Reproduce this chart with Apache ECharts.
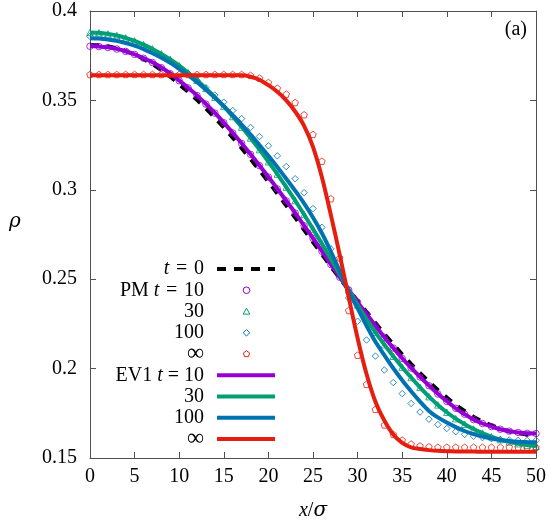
<!DOCTYPE html>
<html>
<head>
<meta charset="utf-8">
<script src="https://cdn.jsdelivr.net/npm/echarts@6.0.0/dist/echarts.min.js"></script>
<style>
    * { margin: 0; padding: 0; }
    #chart { width: 548px; height: 521px; }
</style>
</head>
<body>
<div id="chart"></div>
<script>
    // x / sigma grid
    const xs = [0, 1, 2, 3, 4, 5, 6, 7, 8, 9,
        10, 11, 12, 13, 14, 15, 16, 17, 18, 19,
        20, 21, 22, 23, 24, 25, 26, 27, 28, 29,
        30, 31, 32, 33, 34, 35, 36, 37, 38, 39,
        40, 41, 42, 43, 44, 45, 46, 47, 48, 49, 50];
    const xTicks = [0, 5, 10, 15, 20, 25, 30, 35, 40, 45, 50];
    const yTicks = [0.15, 0.2, 0.25, 0.3, 0.35, 0.4];

    // t = 0 (black dashed)
    const rhoT0 = [0.3810, 0.3808, 0.3801, 0.3791, 0.3776, 0.3756, 0.3731, 0.3703, 0.3670, 0.3632,
        0.3590, 0.3548, 0.3503, 0.3454, 0.3403, 0.3349, 0.3292, 0.3233, 0.3172, 0.3109,
        0.3045, 0.2979, 0.2912, 0.2845, 0.2776, 0.2708, 0.2640, 0.2571, 0.2506, 0.2441,
        0.2378, 0.2317, 0.2255, 0.2194, 0.2136, 0.2079, 0.2025, 0.1975, 0.1926, 0.1880,
        0.1838, 0.1798, 0.1763, 0.1730, 0.1704, 0.1683, 0.1664, 0.1649, 0.1639, 0.1632, 0.1630];

    // PM (symbols)
    const pm10 = [0.3803, 0.3801, 0.3796, 0.3787, 0.3774, 0.3757, 0.3736, 0.3712, 0.3683, 0.3649,
        0.3610, 0.3570, 0.3527, 0.3479, 0.3429, 0.3375, 0.3318, 0.3259, 0.3198, 0.3135,
        0.3071, 0.3005, 0.2938, 0.2870, 0.2799, 0.2728, 0.2656, 0.2582, 0.2511, 0.2440,
        0.2371, 0.2305, 0.2239, 0.2175, 0.2115, 0.2057, 0.2003, 0.1953, 0.1904, 0.1858,
        0.1816, 0.1778, 0.1745, 0.1715, 0.1693, 0.1676, 0.1661, 0.1650, 0.1643, 0.1638, 0.1637];
    const pm30 = [0.3880, 0.3878, 0.3872, 0.3863, 0.3850, 0.3833, 0.3812, 0.3788, 0.3760, 0.3729,
        0.3694, 0.3655, 0.3613, 0.3567, 0.3518, 0.3466, 0.3410, 0.3351, 0.3290, 0.3225,
        0.3157, 0.3088, 0.3015, 0.2940, 0.2862, 0.2781, 0.2698, 0.2613, 0.2527, 0.2440,
        0.2356, 0.2277, 0.2203, 0.2134, 0.2069, 0.2008, 0.1950, 0.1895, 0.1843, 0.1797,
        0.1756, 0.1720, 0.1689, 0.1662, 0.1639, 0.1619, 0.1603, 0.1590, 0.1580, 0.1572, 0.1566];
    const pm100 = [0.3858, 0.3856, 0.3851, 0.3843, 0.3831, 0.3816, 0.3797, 0.3775, 0.3749, 0.3720,
        0.3687, 0.3651, 0.3612, 0.3571, 0.3530, 0.3490, 0.3443, 0.3398, 0.3349, 0.3298,
        0.3246, 0.3190, 0.3130, 0.3062, 0.2984, 0.2895, 0.2790, 0.2670, 0.2537, 0.2395,
        0.2265, 0.2160, 0.2070, 0.1992, 0.1922, 0.1860, 0.1805, 0.1757, 0.1717, 0.1687,
        0.1665, 0.1647, 0.1632, 0.1622, 0.1614, 0.1608, 0.1604, 0.1601, 0.1599, 0.1598, 0.1598];
    const pmInf = [0.3645, 0.3645, 0.3645, 0.3645, 0.3645, 0.3645, 0.3645, 0.3645, 0.3645, 0.3645,
        0.3645, 0.3645, 0.3645, 0.3645, 0.3645, 0.3645, 0.3645, 0.3645, 0.3640, 0.3625,
        0.3600, 0.3568, 0.3535, 0.3488, 0.3420, 0.3310, 0.3160, 0.2950, 0.2620, 0.2325,
        0.2075, 0.1912, 0.1772, 0.1685, 0.1632, 0.1600, 0.1578, 0.1568, 0.1563, 0.1560,
        0.1560, 0.1560, 0.1560, 0.1560, 0.1560, 0.1560, 0.1560, 0.1560, 0.1560, 0.1560, 0.1560];

    // EV1 (lines)
    const ev10 = [0.3804, 0.3802, 0.3797, 0.3788, 0.3775, 0.3758, 0.3737, 0.3713, 0.3684, 0.3650,
        0.3611, 0.3571, 0.3528, 0.3480, 0.3430, 0.3376, 0.3319, 0.3260, 0.3199, 0.3136,
        0.3072, 0.3006, 0.2939, 0.2871, 0.2800, 0.2729, 0.2657, 0.2583, 0.2512, 0.2441,
        0.2372, 0.2306, 0.2240, 0.2176, 0.2116, 0.2058, 0.2004, 0.1954, 0.1905, 0.1859,
        0.1817, 0.1778, 0.1745, 0.1715, 0.1693, 0.1676, 0.1661, 0.1650, 0.1643, 0.1638, 0.1637];
    const ev30 = [0.3880, 0.3878, 0.3872, 0.3863, 0.3850, 0.3833, 0.3812, 0.3788, 0.3760, 0.3729,
        0.3694, 0.3655, 0.3613, 0.3567, 0.3518, 0.3466, 0.3410, 0.3351, 0.3290, 0.3225,
        0.3157, 0.3088, 0.3015, 0.2940, 0.2862, 0.2781, 0.2698, 0.2613, 0.2527, 0.2440,
        0.2356, 0.2277, 0.2203, 0.2134, 0.2069, 0.2008, 0.1950, 0.1895, 0.1843, 0.1797,
        0.1756, 0.1720, 0.1689, 0.1662, 0.1639, 0.1619, 0.1603, 0.1590, 0.1580, 0.1572, 0.1566];
    const ev100 = [0.3848, 0.3846, 0.3841, 0.3833, 0.3821, 0.3806, 0.3787, 0.3764, 0.3739, 0.3710,
        0.3677, 0.3641, 0.3602, 0.3560, 0.3515, 0.3468, 0.3418, 0.3365, 0.3309, 0.3250,
        0.3190, 0.3127, 0.3062, 0.2995, 0.2924, 0.2845, 0.2757, 0.2655, 0.2545, 0.2430,
        0.2337, 0.2240, 0.2150, 0.2075, 0.2002, 0.1935, 0.1873, 0.1815, 0.1763, 0.1727,
        0.1698, 0.1673, 0.1651, 0.1634, 0.1620, 0.1609, 0.1601, 0.1595, 0.1591, 0.1589, 0.1588];
    const evInf = [0.3640, 0.3640, 0.3640, 0.3640, 0.3640, 0.3640, 0.3640, 0.3640, 0.3640, 0.3640,
        0.3640, 0.3640, 0.3640, 0.3640, 0.3640, 0.3640, 0.3640, 0.3640, 0.3632, 0.3615,
        0.3585, 0.3548, 0.3500, 0.3438, 0.3358, 0.3240, 0.3070, 0.2860, 0.2635, 0.2400,
        0.2170, 0.1970, 0.1815, 0.1710, 0.1632, 0.1585, 0.1560, 0.1550, 0.1544, 0.1540,
        0.1538, 0.1537, 0.1536, 0.1536, 0.1535, 0.1535, 0.1535, 0.1535, 0.1535, 0.1535, 0.1535];

    const FONT = '"Liberation Serif", "DejaVu Serif", serif';
    const GREEK = '"DejaVu Serif", serif';
    const C_PURPLE = '#9400d3', C_GREEN = '#009e73', C_BLUE = '#0072b2', C_RED = '#e51e10';
    const AXIS_C = '#505050';
    const PENTAGON = 'path://M0,-10L9.51,-3.09L5.88,8.09L-5.88,8.09L-9.51,-3.09Z';

    function pts(ys) {
        return xs.map((x, i) => [x, ys[i]]);
    }

    function markSeries(name, ys, symbol, color) {
        return {
            name: name, type: 'scatter', data: pts(ys),
            symbol: symbol, symbolSize: 6.5,
            itemStyle: { color: 'rgba(0,0,0,0)', borderColor: color, borderWidth: 1 },
            z: 3
        };
    }

    function lineSeries(name, ys, color) {
        return {
            name: name, type: 'line', data: pts(ys),
            showSymbol: false, smooth: 0.3,
            lineStyle: { color: color, width: 4 },
            z: 4
        };
    }

    // legend (drawn by hand, text right aligned, sample to the right)
    const legendRows = [
        { txt: '{i|t}{n|\u2004=\u20040}', kind: 'dash' },
        { txt: '{n|PM }{i|t}{n|\u2004=\u200410}', kind: 'mark', sym: 'circle', color: C_PURPLE },
        { txt: '{n|30}', kind: 'mark', sym: 'triangle', color: C_GREEN },
        { txt: '{n|100}', kind: 'mark', sym: 'diamond', color: C_BLUE },
        { txt: '{b|∞}', kind: 'mark', sym: 'pentagon', color: C_RED },
        { txt: '{n|EV1 }{i|t}{n| = 10}', kind: 'line', color: C_PURPLE },
        { txt: '{n|30}', kind: 'line', color: C_GREEN },
        { txt: '{n|100}', kind: 'line', color: C_BLUE },
        { txt: '{b|∞}', kind: 'line', color: C_RED }
    ];

    const rich = {
        n: { fontSize: 20, fontFamily: FONT, color: '#000' },
        i: { fontSize: 20, fontFamily: FONT, fontStyle: 'italic', color: '#000' },
        g: { fontSize: 20, fontFamily: GREEK, fontStyle: 'italic', color: '#000' },
        b: { fontSize: 24, fontFamily: FONT, color: '#000' }
    };

    function markShape(sym, cx, cy, color) {
        const st = { fill: 'none', stroke: color, lineWidth: 1 };
        const r = 3.3;
        if (sym === 'circle') return { type: 'circle', shape: { cx: cx, cy: cy, r: r }, style: st };
        let p;
        if (sym === 'triangle') p = [[cx, cy - r], [cx + r, cy + r * 0.8], [cx - r, cy + r * 0.8]];
        else if (sym === 'diamond') p = [[cx, cy - r], [cx + r, cy], [cx, cy + r], [cx - r, cy]];
        else p = [[cx, cy - r], [cx + r * 0.95, cy - r * 0.31], [cx + r * 0.59, cy + r * 0.81],
            [cx - r * 0.59, cy + r * 0.81], [cx - r * 0.95, cy - r * 0.31]];
        return { type: 'polygon', shape: { points: p }, style: st };
    }

    const graphics = [];
    legendRows.forEach((row, k) => {
        const y = 269 + k * 21.25;
        graphics.push({
            type: 'text', x: 204, y: y,
            style: { text: row.txt, rich: rich, align: 'right', verticalAlign: 'middle' }
        });
        if (row.kind === 'dash') {
            graphics.push({ type: 'line', shape: { x1: 217, y1: y, x2: 275, y2: y },
                style: { stroke: '#000', lineWidth: 4, lineDash: [9, 8] } });
        } else if (row.kind === 'line') {
            graphics.push({ type: 'line', shape: { x1: 217, y1: y, x2: 275, y2: y },
                style: { stroke: row.color, lineWidth: 4 } });
        } else {
            graphics.push(markShape(row.sym, 246.5, y, row.color));
        }
    });
    graphics.push({
        type: 'text', x: 527, y: 30,
        style: { text: '(a)', fontSize: 20, fontFamily: FONT, fill: '#000', align: 'right', verticalAlign: 'middle' }
    });
    graphics.push({
        type: 'text', x: 15, y: 222,
        style: { text: 'ρ', fontSize: 20, fontFamily: GREEK, fontStyle: 'italic', fill: '#000', align: 'center', verticalAlign: 'middle' }
    });

    const axisCommon = {
        axisLine: { show: true, onZero: false, lineStyle: { color: AXIS_C, width: 1 } },
        axisTick: { show: true, inside: true, length: 6, lineStyle: { color: AXIS_C } },
        splitLine: { show: false }
    };

    const option = {
        animation: false,
        backgroundColor: '#fff',
        grid: { left: 90, right: 12, top: 11, bottom: 63, outerBoundsMode: 'none' },
        xAxis: [
            Object.assign({
                type: 'value', min: xTicks[0], max: xTicks[xTicks.length - 1], interval: xTicks[1] - xTicks[0],
                position: 'bottom',
                axisLabel: { color: '#000', fontSize: 20, fontFamily: FONT, margin: 9 },
                name: '{i|x}{n|/}{g|σ}', nameLocation: 'middle', nameGap: 43,
                nameTextStyle: { rich: rich }
            }, axisCommon),
            Object.assign({
                type: 'value', min: xTicks[0], max: xTicks[xTicks.length - 1], interval: xTicks[1] - xTicks[0],
                position: 'top', axisLabel: { show: false }
            }, axisCommon)
        ],
        yAxis: [
            Object.assign({
                type: 'value', min: yTicks[0], max: yTicks[yTicks.length - 1], interval: 0.05,
                position: 'left',
                axisLabel: { color: '#000', fontSize: 20, fontFamily: FONT, margin: 13,
                    formatter: v => String(+v.toFixed(2)) }
            }, axisCommon),
            Object.assign({
                type: 'value', min: yTicks[0], max: yTicks[yTicks.length - 1], interval: 0.05,
                position: 'right', axisLabel: { show: false }
            }, axisCommon)
        ],
        graphic: graphics,
        series: [
            {
                name: 't=0', type: 'line', data: pts(rhoT0),
                showSymbol: false, smooth: 0.3,
                lineStyle: { color: '#000', width: 4, type: [9, 8] },
                z: 2
            },
            markSeries('PM t=10', pm10, 'circle', C_PURPLE),
            markSeries('PM 30', pm30, 'triangle', C_GREEN),
            markSeries('PM 100', pm100, 'diamond', C_BLUE),
            markSeries('PM inf', pmInf, PENTAGON, C_RED),
            lineSeries('EV1 t=10', ev10, C_PURPLE),
            lineSeries('EV1 30', ev30, C_GREEN),
            lineSeries('EV1 100', ev100, C_BLUE),
            lineSeries('EV1 inf', evInf, C_RED)
        ]
    };

    const myChart = echarts.init(document.getElementById('chart'));
    myChart.setOption(option);
</script>
</body>
</html>
